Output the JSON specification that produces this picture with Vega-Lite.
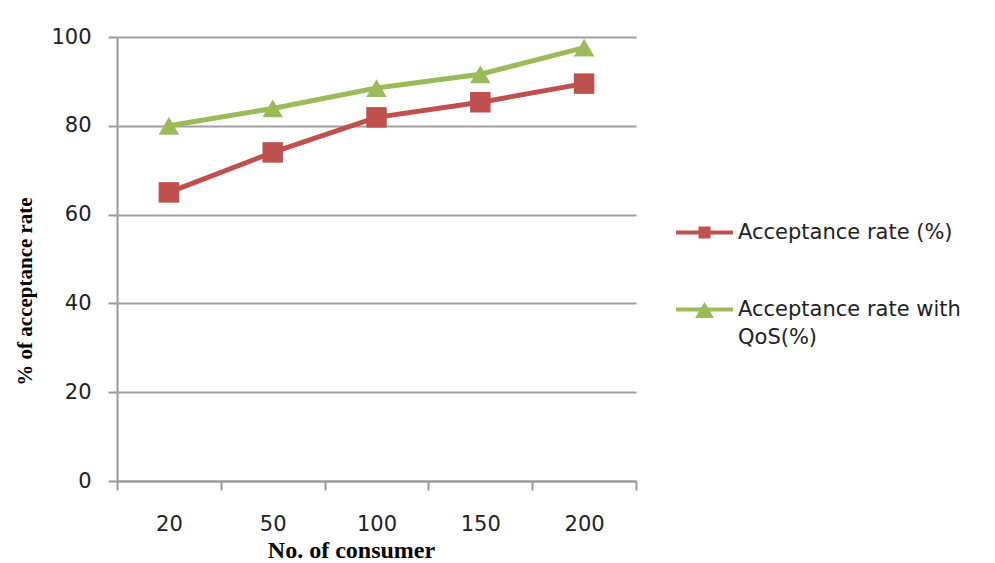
{
  "$schema": "https://vega.github.io/schema/vega-lite/v6.json",
  "width": 519,
  "height": 444,
  "autosize": {"type": "none"},
  "padding": {"left": 117, "top": 37, "right": 359, "bottom": 82},
  "background": "white",
  "config": {
    "view": {"stroke": null},
    "font": "DejaVu Sans"
  },
  "data": {
    "values": [
      {"consumers": 20, "series": "Acceptance rate (%)", "rate": 65},
      {"consumers": 50, "series": "Acceptance rate (%)", "rate": 74},
      {"consumers": 100, "series": "Acceptance rate (%)", "rate": 81.9},
      {"consumers": 150, "series": "Acceptance rate (%)", "rate": 85.3},
      {"consumers": 200, "series": "Acceptance rate (%)", "rate": 89.5},
      {"consumers": 20, "series": "Acceptance rate with QoS(%)", "rate": 80},
      {"consumers": 50, "series": "Acceptance rate with QoS(%)", "rate": 83.9},
      {"consumers": 100, "series": "Acceptance rate with QoS(%)", "rate": 88.5},
      {"consumers": 150, "series": "Acceptance rate with QoS(%)", "rate": 91.6},
      {"consumers": 200, "series": "Acceptance rate with QoS(%)", "rate": 97.6}
    ]
  },
  "encoding": {
    "x": {
      "field": "consumers",
      "type": "ordinal",
      "scale": {"paddingInner": 0, "paddingOuter": 0},
      "axis": {
        "title": "No. of consumer",
        "titleFont": "Liberation Serif",
        "titleFontWeight": "bold",
        "titleFontSize": 24,
        "titleColor": "#000",
        "titleX": 234,
        "titleY": 76,
        "titleBaseline": "alphabetic",
        "labelAngle": 0,
        "labelFontSize": 21,
        "labelColor": "#222",
        "labelPadding": 23,
        "tickBand": "extent",
        "tickSize": 9,
        "tickColor": "#999",
        "tickWidth": 2,
        "domainColor": "#999",
        "domainWidth": 2,
        "grid": false
      }
    },
    "y": {
      "field": "rate",
      "type": "quantitative",
      "scale": {"domain": [0, 100], "nice": false},
      "axis": {
        "title": "% of acceptance rate",
        "titleFont": "Liberation Serif",
        "titleFontWeight": "bold",
        "titleFontSize": 21,
        "titleColor": "#000",
        "titleAngle": -90,
        "titleX": -92,
        "titleY": 254,
        "titleBaseline": "middle",
        "titleAlign": "center",
        "values": [0, 20, 40, 60, 80, 100],
        "labelFontSize": 21,
        "labelColor": "#222",
        "labelPadding": 17,
        "tickSize": 9,
        "tickColor": "#999",
        "tickWidth": 2,
        "domainColor": "#999",
        "domainWidth": 2,
        "grid": true,
        "gridColor": "#a0a0a0",
        "gridWidth": 2
      }
    },
    "color": {
      "field": "series",
      "type": "nominal",
      "scale": {
        "domain": ["Acceptance rate (%)", "Acceptance rate with QoS(%)"],
        "range": ["#C0504D", "#9BBB59"]
      },
      "legend": {
        "title": null,
        "orient": "none",
        "legendX": 559,
        "legendY": 167,
        "padding": 0,
        "rowPadding": 38,
        "symbolSize": 3249,
        "symbolStrokeWidth": 0,
        "labelFontSize": 21,
        "labelColor": "#222",
        "labelOffset": 5,
        "labelLimit": 400,
        "labelExpr": "datum.label == 'Acceptance rate with QoS(%)' ? ['Acceptance rate with', 'QoS(%)'] : datum.label",
        "encode": {
          "symbols": {
            "update": {
              "shape": {"signal": "datum.value == 'Acceptance rate (%)' ? 'M-1,-0.07H1V0.07H-1Z M-0.21,-0.21H0.21V0.21H-0.21Z' : 'M-1,-0.07H1V0.07H-1Z M0,-0.26L0.33,0.3H-0.33Z'"},
              "fill": {"signal": "datum.value == 'Acceptance rate (%)' ? '#C0504D' : '#9BBB59'"},
              "stroke": {"value": "transparent"},
              "strokeWidth": {"value": 0},
              "opacity": {"value": 1}
            }
          },
          "labels": {
            "update": {
              "lineHeight": {"value": 28}
            }
          }
        }
      }
    }
  },
  "layer": [
    {
      "mark": {"type": "line", "strokeWidth": 5}
    },
    {
      "transform": [{"filter": "datum.series == 'Acceptance rate (%)'"}],
      "mark": {"type": "point", "filled": true, "opacity": 1, "shape": "square", "size": 420}
    },
    {
      "transform": [{"filter": "datum.series == 'Acceptance rate with QoS(%)'"}],
      "mark": {"type": "point", "filled": true, "opacity": 1, "shape": "triangle-up", "size": 420}
    }
  ]
}
